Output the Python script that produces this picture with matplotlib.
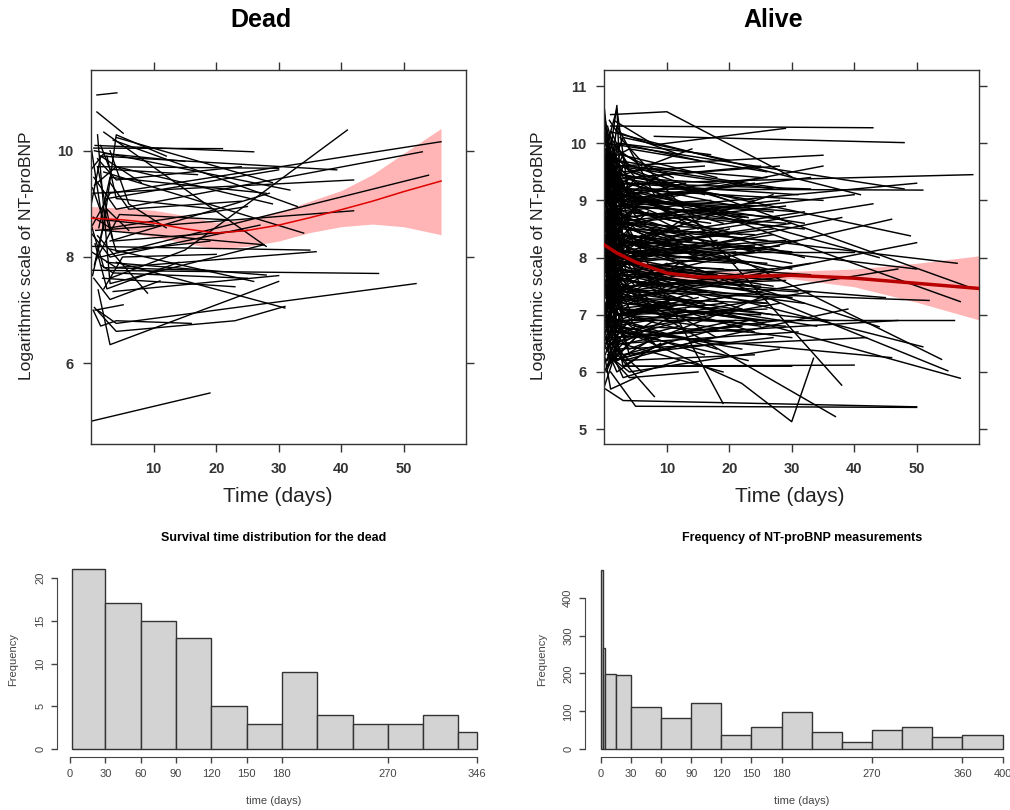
import matplotlib.pyplot as plt
plt.rcParams.update({"font.family": ["Liberation Sans", "DejaVu Sans"]})
import numpy as np

W, H = 1010, 810

# individual trajectories, "t y t y ..." (days, log NT-proBNP)
dead_traj = [
	"0.9 11.05 4.1 11.09", "0.9 10.73 5.1 10.33", "0 4.91 19 5.44",
	"1.1 7.38 3 6.35 30 7.54", "0.5 7.05 4 6.6 23 6.8 31 7.07", "1 7.0 4 6.75 52 7.5",
	"0.3 7.0 1.5 6.7 4 6.8 16 6.75", "3 7.6 15 8.13 41 10.39", "0.2 8.6 3 9.2 56 10.17",
	"1.5 8.0 54 9.54", "0.4 9.5 4 8.9 53 9.98", "0.2 7.75 46 7.69", "0.7 8.5 42 8.87",
	"0.3 9.2 42 9.45", "1.5 9.9 39.3 9.64", "0 8.2 35 8.13", "2 9.6 34 8.45",
	"3.5 10.2 33 8.95", "0.5 10.0 31.8 9.26", "1 9.7 30 9.67", "2.5 9.1 30 9.64",
	"4 10.25 29 9.4", "3 8.3 28.5 9.2", "0.6 10.1 26 9.98", "0.4 10.05 21 10.04",
	"2.5 7.9 28 7.66", "3 8.15 26 7.54", "1.8 7.6 23 7.44", "1 8.4 9 7.32",
	"0.6 7.0 5.1 7.1", "4 7.9 31 7.04", "1 10.3 3 7.5 27.6 8.23", "0 10.05 2 8.5 27.6 8.23",
	"2 10.35 28 8.2", "0.5 9.35 4 9.7 29 9.0", "0 8.45 3 8.0 27 8.6", "1 9.7 3.5 8.3 25 8.5",
	"0.2 7.65 2 8.6 4 10.3 12 9.9", "1.5 7.85 3.5 7.7 25 7.6", "0 8.6 2 7.8 18 7.75",
	"2.5 9.9 4 9.1 20 8.9", "0.8 7.95 4.5 8.8 22 8.7", "0 9.65 2 9.95 15 9.8",
	"3 9.4 6 8.9 24 9.05", "1.2 8.55 3 9.5 28 9.2", "0.4 7.6 3 7.2 11 7.55",
	"2 8.9 4 8.1 19 8.3", "0 9.0 1.5 9.9 8 9.4", "3.5 7.35 30 7.65",
	"0.6 8.25 2.5 7.4 14 7.9", "1 9.85 4 9.45 24 9.7", "0.3 8.75 3 8.55 25 8.95",
	"2 7.4 5 8.0 20 8.05", "0 8.1 4 7.8 36 8.1", "1.5 10.1 3 9.65 17 9.55",
	"0.5 7.85 2.5 8.9 6 8.5", "3 10.0 6 9.0 12 8.55", "0.2 9.3 2 8.7 10 8.6",
]

alive_traj = [
	# long follow-up
	"1 10.3 43 10.27", "1 10.5 10 10.55 30 9.41", "8 10.12 48 10.01", "1.5 10.4 8 9.97 29 10.26",
	"2 9.6 35 9.79", "0.5 9.0 5 9.3 59 9.45", "1 8.8 50 9.3", "2 9.2 51 9.18",
	"0.8 8.2 43 8.94", "3 7.6 46 8.67", "1 9.5 49 8.38", "0.5 7.2 50 8.26",
	"2 8.6 56.5 7.9", "1.5 9.4 57 7.23", "0.3 8.3 44 6.79", "1 6.9 56 6.9",
	"2 7.8 51 6.44", "0.6 9.1 54 6.22", "1.2 8.4 55 6.02", "0.4 7.6 57 5.89",
	"2.5 10.1 38 5.77", "0.2 5.7 3 5.5 50 5.39", "1 6.0 5 5.4 50 5.38", "0.8 7.5 37 5.22",
	"1.5 6.8 22 5.8 30 5.13 33.5 6.24", "2 8.9 19 5.45", "0.5 6.5 8 5.57", "3 6.1 40 6.12",
	"0.2 9.9 2 9.0 33 9.4", "1 8.1 40 8.1", "0.5 7.7 45 7.3", "2 7.0 47 7.8",
	"0.1 8.6 40 9.1", "1 7.3 36 6.9", "0.5 6.6 47 6.9", "2 6.4 42 6.6",
	"1 9.3 44 8.0", "0.3 10.0 48 9.2", "1.5 8.9 35 9.6", "2 7.9 38 8.7",
	"0.8 6.2 39 7.1", "1 10.2 41 9.1", "0.5 7.45 52 7.25", "3 8.4 50 7.8",
	"1.5 6.7 46 6.25", "2 9.7 58 7.5",
	# medium follow-up
	"0 9.8 3 8.7 22 8.9", "0.5 10.1 2.5 9.0 15 9.2", "1 8.7 4 7.9 27 7.5", "0.2 7.9 3 7.1 25 7.0",
	"0 6.9 2 7.6 18 6.6", "1 9.0 5 8.2 30 8.6", "0.4 8.5 2 9.4 24 9.0", "0.1 7.4 3.5 6.5 21 6.9",
	"0.8 10.4 2 10.2 12 9.8", "0.5 6.3 4 6.0 28 6.4", "1.5 8.3 6 7.5 26 7.2", "0 8.0 2.5 8.9 32 8.0",
	"0.3 9.6 4 9.1 19 8.4", "1 7.1 3 7.9 23 7.6", "0.6 6.1 2 6.8 16 6.3", "0.2 9.3 3 10.1 20 9.7",
	"1.2 7.7 5 6.9 33 7.4", "0 10.6 2 8.4 14 8.1", "0.7 8.8 3 8.1 29 8.3", "0.1 6.6 4 7.2 26 6.9",
	"1 9.9 2 10.66 3 8.0 20 8.5", "0.5 7.0 3 6.2 17 6.6", "0.3 8.2 6 9.0 31 8.8", "1.5 9.5 4 8.6 24 8.1",
	"0 7.3 2.5 7.8 22 7.1", "0.9 6.4 3 5.9 12 6.2", "0.2 8.9 5 8.3 27 9.1", "1 10.0 3 9.4 18 9.3",
	"0.4 7.6 2 8.3 30 7.8", "0.6 6.8 4 6.4 25 7.3", "1.3 9.1 3 8.0 21 7.9", "0 8.4 2 7.5 16 7.2",
	"0.5 9.7 4 9.9 26 9.5", "1 7.9 5 7.3 34 6.8", "0.3 6.0 3 6.7 20 6.5", "0.8 8.6 2.5 9.2 23 8.7",
	"0.1 10.3 2 9.3 10 8.8", "1 6.5 4 6.1 30 6.1", "0.5 7.2 3 8.0 28 8.2", "0.2 9.4 5 8.8 32 8.5",
	"1.1 8.0 3 7.0 19 7.3", "0 7.7 4 8.5 24 8.4", "0.6 9.2 2 8.6 15 8.0", "0.4 6.7 3 7.4 27 7.0",
	"1 10.1 4 9.6 29 9.2", "0.7 7.4 2 6.8 22 6.4", "0.3 8.7 5 9.4 25 9.6", "1.2 6.9 3 7.3 31 7.7",
	"0 9.0 2.5 8.2 20 8.4", "0.5 8.1 4 8.8 17 8.6", "0.9 7.5 3 6.7 23 6.2", "0.2 9.8 2 9.2 35 9.0",
	"1 8.3 5 7.8 28 7.6", "0.4 6.2 3 6.9 14 7.0", "0.6 10.0 4 9.0 26 8.9", "0 7.1 2 7.9 21 7.7",
	"1.4 8.9 3 8.4 30 7.9", "0.3 7.8 5 7.2 24 6.9", "0.8 9.3 2.5 9.8 18 9.4", "0.1 6.8 3 6.3 27 6.6",
	"1 8.6 4 7.6 32 7.2", "0.5 9.6 3 8.9 22 9.3", "0.2 7.0 2 7.7 25 7.5", "1.1 10.2 4 9.5 20 9.0",
	"0.7 8.0 3 8.6 29 8.9", "0 6.4 5 6.8 23 6.7", "0.4 9.1 2 8.3 16 8.2", "1 7.6 3 7.0 26 7.1",
	"0.6 8.8 4 9.3 33 9.2", "0.3 6.9 2.5 6.5 19 6.0", "0.9 9.9 3 9.0 24 8.6", "0.1 8.2 5 8.9 28 8.7",
	"1.3 7.3 3 7.9 21 8.1", "0.5 10.3 2 9.7 13 9.5", "0 7.9 4 7.4 30 7.3", "0.8 6.5 3 7.1 25 6.8",
	"0.2 8.5 2 7.8 18 7.6", "1 9.4 5 9.0 27 8.8", "0.4 7.1 3 6.6 22 6.8", "0.6 8.3 4 8.0 31 8.3",
	"0.3 9.5 2 10.0 17 9.8", "1.2 6.6 3 6.2 24 6.3", "0 8.7 2.5 8.1 26 7.9", "0.7 7.8 4 8.4 20 8.0",
	"0.1 9.2 3 8.5 29 8.1", "1 7.4 2 8.1 23 7.9", "0.5 6.1 5 6.6 28 6.9", "0.2 9.7 3 9.3 21 8.9",
	"0.9 8.1 4 7.6 19 7.0", "0.4 7.5 2 7.0 30 6.6", "1.1 9.0 3 9.6 25 9.4", "0.6 6.3 4 5.9 15 6.0",
	"0 10.1 2 9.1 22 8.7", "0.8 8.4 3 7.7 27 7.8", "0.3 7.2 5 7.7 24 7.4", "1 9.6 2.5 9.1 32 8.6",
	"0.5 8.6 3 8.0 18 7.7", "0.2 6.7 2 7.3 26 7.2",
	"0.5 8.1 4 7.8 25 8.1", "0 9.0 3 8.7 28 9.0", "0.3 7.3 2 7.6 31 7.4", "1 8.9 5 8.5 26 8.3",
	"0.2 6.9 3 7.5 29 7.6", "0 9.4 4 9.0 24 9.3", "0.7 7.7 2 8.2 27 8.5", "0 8.5 3 7.9 33 7.7",
	"0.4 6.4 4 6.9 22 7.1", "0 9.2 2 8.4 30 8.1", "1 7.6 3 7.2 25 6.9", "0.2 8.8 5 8.9 23 8.7",
	"0 7.0 2 6.7 28 7.2", "0.6 9.8 3 9.3 31 9.1", "0 8.2 4 8.4 26 7.8", "0.3 6.8 2 7.4 24 6.7",
	"0 9.5 3 8.8 29 8.6", "1 7.9 4 8.0 27 8.4", "0.1 8.6 2 8.3 32 8.8", "0 6.6 3 6.3 23 6.9",
	"0.5 9.1 4 9.4 28 9.6", "0 7.4 2 7.8 30 7.3", "0.2 8.0 5 7.5 25 7.7", "0 9.7 3 9.1 26 9.4",
	"0.8 7.1 2 7.0 29 6.8", "0 8.7 4 8.1 24 8.2", "0.4 6.2 3 6.5 31 6.7", "0 9.3 2 9.6 27 9.2",
	"1 7.8 3 7.4 33 7.9", "0.2 8.4 4 8.8 22 8.4",
	# short follow-up
	"0 10.4 2 9.6 6 9.2", "0.2 9.9 1.5 8.5 7 8.2", "0.5 10.0 2 10.6 4 9.0", "0 9.5 1 7.8 5 7.4",
	"0.3 8.9 2 10.3 8 9.1", "0 8.1 1.5 9.2 6 8.6", "0.1 7.5 3 6.1 9 6.5", "0 9.2 2 7.2 5 6.8",
	"0.4 10.2 1 9.4 3 8.3 10 8.0", "0 6.9 1 7.5 4 6.3", "0.2 8.4 2 6.7 7 7.2", "0 7.8 1.5 8.6 11 8.3",
	"0.6 9.7 2 8.1 6 7.9", "0 6.3 1 5.7 5 5.9", "0.1 8.7 2.5 7.4 9 7.7", "0 10.35 1 9.0 4 8.6",
	"0.3 7.2 2 6.2 8 6.6", "0 8.6 1.5 9.8 5 9.4", "0.2 9.4 3 7.0 12 7.3", "0 7.4 1 8.2 6 7.8",
	"0.5 6.6 2 7.1 10 7.5", "0 9.0 2 8.0 7 8.4", "0.1 10.1 1.5 9.6 5 8.8", "0 8.2 3 7.5 9 7.0",
	"0.4 6.4 2 6.0 6 6.3", "0 9.8 1 8.9 4 9.4", "0.2 7.0 2 7.8 8 8.1", "0 8.8 1.5 7.3 11 7.0",
	"0.6 9.3 3 8.4 7 8.8", "0 6.8 1 6.2 5 6.6", "0 7.9 2 9.0 6 8.8", "0.2 8.3 1 7.6 3 6.9 9 6.4",
	"0 5.75 2 6.4 6 6.0", "0.3 9.6 2 9.0 10 9.5", "0 7.6 1.5 6.8 7 6.9", "0.1 8.0 2.5 8.7 12 8.5",
	"0 10.5 1 9.8 3 9.2", "0.4 7.3 2 8.4 5 8.0", "0 8.5 1 6.9 8 6.5", "0.2 9.1 2 9.9 6 9.6",
	"0 9.1 2 8.0 9 7.8", "0.2 8.0 3 9.1 14 8.9", "0 7.2 1 6.5 12 6.8", "0.5 8.9 3 7.6 16 7.4",
	"0 9.6 2 8.8 11 8.5", "0.3 7.7 4 8.2 13 8.6", "0 6.7 2 7.0 15 7.4", "0.1 8.3 1.5 7.1 10 7.2",
	"0 10.2 2 9.3 9 8.9", "0.4 7.4 3 8.0 18 8.3", "0 8.9 1 9.5 13 9.2", "0.2 6.5 2 6.9 11 6.6",
	"0 7.6 3 7.0 14 6.7", "0.6 9.0 2 8.5 12 8.8", "0 8.4 2.5 9.6 16 9.1", "0.1 7.0 1 7.9 9 8.0",
	"0 9.4 3 8.3 17 8.0", "0.3 6.2 2 6.6 13 6.9", "0 8.0 1.5 7.4 10 7.9", "0.5 9.9 2 9.2 15 8.6",
	"0 7.5 3 8.3 12 8.2", "0.2 8.7 1 8.0 14 7.5", "0 6.0 2 6.5 8 6.9", "0.4 9.2 3 9.8 11 9.4",
	"0 8.2 2 8.9 17 9.0", "0.1 7.8 2.5 7.2 15 7.6", "0 9.7 1 8.7 12 8.3", "0.3 7.1 3 7.5 10 7.0",
	"0 8.6 2 7.9 19 7.8", "0.5 6.8 1.5 7.6 14 7.8", "0 10.0 3 9.5 16 9.6", "0.2 7.3 2 6.9 11 7.2",
	"0 8.9 1 8.2 9 8.5", "0.4 7.9 3 8.7 13 8.4", "0 6.6 2 6.2 10 6.5", "0.1 9.5 1.5 8.9 18 8.8",
	"0 7.7 3 7.3 12 7.9", "0.6 8.4 2 8.8 15 8.1", "0 9.3 2.5 8.6 10 8.2", "0.2 6.9 1 6.4 13 7.1",
	"0 8.1 3 7.8 16 7.4", "0.3 9.8 2 9.4 14 9.9", "0 7.4 1.5 7.9 11 7.6", "0.5 8.8 3 9.1 19 8.6",
	"0 6.4 2 7.0 12 7.3", "0.1 9.0 1 9.7 10 9.2", "0 7.9 2 7.1 17 6.9", "0.4 8.5 3 8.0 13 8.7",
	"0 9.6 2.5 10.0 15 9.7", "0.2 7.6 2 8.1 9 8.5", "0 8.3 1 7.7 14 7.3", "0.6 6.7 3 6.9 18 6.4",
	"0 9.1 2 9.5 11 9.0", "0.3 7.2 1.5 7.7 16 8.0", "0 8.7 3 8.3 12 8.0", "0.1 6.3 2 6.8 13 6.6",
	"0 9.9 1 9.1 10 8.7", "0.5 7.5 2 7.0 15 7.3", "0 8.0 3 8.6 19 8.5", "0.2 9.3 2 9.0 14 8.9",
	"0 7.0 1.5 7.4 12 7.7", "0.4 8.6 3 7.7 11 7.5", "0 6.8 2 7.3 16 7.0", "0.1 9.7 1 9.0 13 9.3",
	"0 7.8 2.5 8.3 10 8.1", "0.3 8.2 2 7.5 17 7.1", "0 9.4 3 9.2 15 8.5", "0.6 7.1 1 7.8 12 8.4",
	"0 8.5 2 8.1 14 8.3", "0.2 6.5 3 7.0 19 7.2",
]

# loess fit with confidence band
dead_fit_t = [0, 5, 10, 15, 20, 25, 30, 35, 40, 45, 50, 56]
dead_fit = [8.73, 8.70, 8.64, 8.53, 8.45, 8.50, 8.60, 8.74, 8.89, 9.05, 9.23, 9.43]
dead_lo = [8.52, 8.48, 8.38, 8.26, 8.15, 8.20, 8.30, 8.46, 8.57, 8.62, 8.57, 8.42]
dead_hi = [8.95, 8.92, 8.88, 8.78, 8.65, 8.72, 8.84, 9.05, 9.25, 9.55, 9.95, 10.42]

alive_fit_t = [0, 2, 5, 10, 15, 20, 30, 40, 50, 60]
alive_fit = [8.22, 8.08, 7.92, 7.73, 7.66, 7.66, 7.69, 7.64, 7.55, 7.46]
alive_lo = [8.12, 7.99, 7.83, 7.62, 7.55, 7.57, 7.63, 7.49, 7.22, 6.91]
alive_hi = [8.32, 8.17, 8.01, 7.84, 7.77, 7.76, 7.76, 7.80, 7.90, 8.03]

# histograms
surv_edges = [2, 30, 60, 90, 120, 150, 180, 210, 240, 270, 300, 330, 346]
surv_counts = [21, 17, 15, 13, 5, 3, 9, 4, 3, 3, 4, 2]
surv_xticks = [0, 30, 60, 90, 120, 150, 180, 270, 346]

meas_edges = [0, 2, 4, 15, 30, 60, 90, 120, 150, 180, 210, 240, 270, 300, 330, 360, 400]
meas_counts = [473, 268, 198, 196, 112, 82, 123, 38, 60, 98, 46, 18, 51, 58, 32, 37]
meas_xticks = [0, 30, 60, 90, 120, 150, 180, 270, 360, 400]


def parse(rows):
	out = []
	for r in rows:
		v = [float(s) for s in r.split()]
		out.append((v[0::2], v[1::2]))
	return out

def px_axes(fig, x0, y0, x1, y1):
	return fig.add_axes([x0 / W, 1 - y1 / H, (x1 - x0) / W, (y1 - y0) / H])

def spaghetti(ax, traj, fit_t, fit, lo, hi, ylim, yticks, lw, red_lw, red_col):
	ax.fill_between(fit_t, lo, hi, color="#ffb5b5", lw=0, zorder=1)
	for t, y in parse(traj):
		ax.plot(t, y, color="black", lw=lw, zorder=2)
	ax.plot(fit_t, fit, color=red_col, lw=red_lw, zorder=3)
	ax.set_xlim(0, 60)
	ax.set_ylim(*ylim)
	ax.set_xticks([10, 20, 30, 40, 50])
	ax.set_yticks(yticks)
	ax.tick_params(direction="out", length=6, width=1, top=True, right=True,
				   labelsize=10.5, pad=7, colors="#333333")
	for lab in ax.get_xticklabels() + ax.get_yticklabels():
		lab.set_fontweight("bold")
	for s in ax.spines.values():
		s.set_linewidth(1)
		s.set_color("#333333")

def hist(ax, edges, counts, xlim, ylim, xticks, yticks):
	ax.bar(edges[:-1], counts, width=np.diff(edges), align="edge",
		   color="#d3d3d3", edgecolor="#333333", lw=1)
	ax.set_xlim(*xlim)
	ax.set_ylim(*ylim)
	ax.set_xticks(xticks)
	ax.set_yticks(yticks)
	ax.spines["top"].set_visible(False)
	ax.spines["right"].set_visible(False)
	ax.spines["left"].set_bounds(yticks[0], yticks[-1])
	ax.spines["bottom"].set_bounds(xticks[0], xticks[-1])
	for s in ("left", "bottom"):
		ax.spines[s].set_color("#444444")
	ax.tick_params(direction="out", length=4.5, width=1, labelsize=8, pad=4,
				   colors="#444444")
	for lab in ax.get_yticklabels():
		lab.set_rotation(90)
		lab.set_va("center")


fig = plt.figure(figsize=(W / 100, H / 100), dpi=100)

ax1 = px_axes(fig, 91.3, 70, 466, 444)
spaghetti(ax1, dead_traj, dead_fit_t, dead_fit, dead_lo, dead_hi,
		  (4.48, 11.52), [6, 8, 10], 1.0, 1.1, "#e00000")
ax2 = px_axes(fig, 604.4, 70, 979, 444)
spaghetti(ax2, alive_traj, alive_fit_t, alive_fit, alive_lo, alive_hi,
		  (4.74, 11.28), [5, 6, 7, 8, 9, 10, 11], 1.05, 2.5, "#b80000")

for x, title in [(261, "Dead"), (773, "Alive")]:
	fig.text(x / W, 1 - 20 / H, title, ha="center", va="center", fontsize=18, fontweight="bold")
for x in (27, 539):
	fig.text(x / W, 1 - 256 / H, "Logarithmic scale of NT-proBNP", rotation=90,
			 ha="center", va="center", fontsize=12.5, color="#222222")
for x in (278, 790):
	fig.text(x / W, 1 - 497 / H, "Time (days)", ha="center", va="center",
			 fontsize=15, color="#222222")

ax3 = px_axes(fig, 57.05, 564, 482, 757.3)
hist(ax3, surv_edges, surv_counts, (-11.0, 350), (-0.93, 21.6), surv_xticks, [0, 5, 10, 15, 20])
ax4 = px_axes(fig, 585, 565, 1007.7, 757.3)
hist(ax4, meas_edges, meas_counts, (-15.6, 405), (-21.1, 486), meas_xticks, [0, 100, 200, 300, 400])

for x, title in [(274, "Survival time distribution for the dead"),
				 (802, "Frequency of NT-proBNP measurements")]:
	fig.text(x / W, 1 - 538 / H, title, ha="center", va="center", fontsize=9, fontweight="bold")
	fig.text(x / W, 1 - 801 / H, "time (days)", ha="center", va="center", fontsize=8, color="#444444")
for x in (13, 542):
	fig.text(x / W, 1 - 660 / H, "Frequency", rotation=90, ha="center", va="center",
			 fontsize=8, color="#444444")

plt.savefig("out.png", dpi=100)
